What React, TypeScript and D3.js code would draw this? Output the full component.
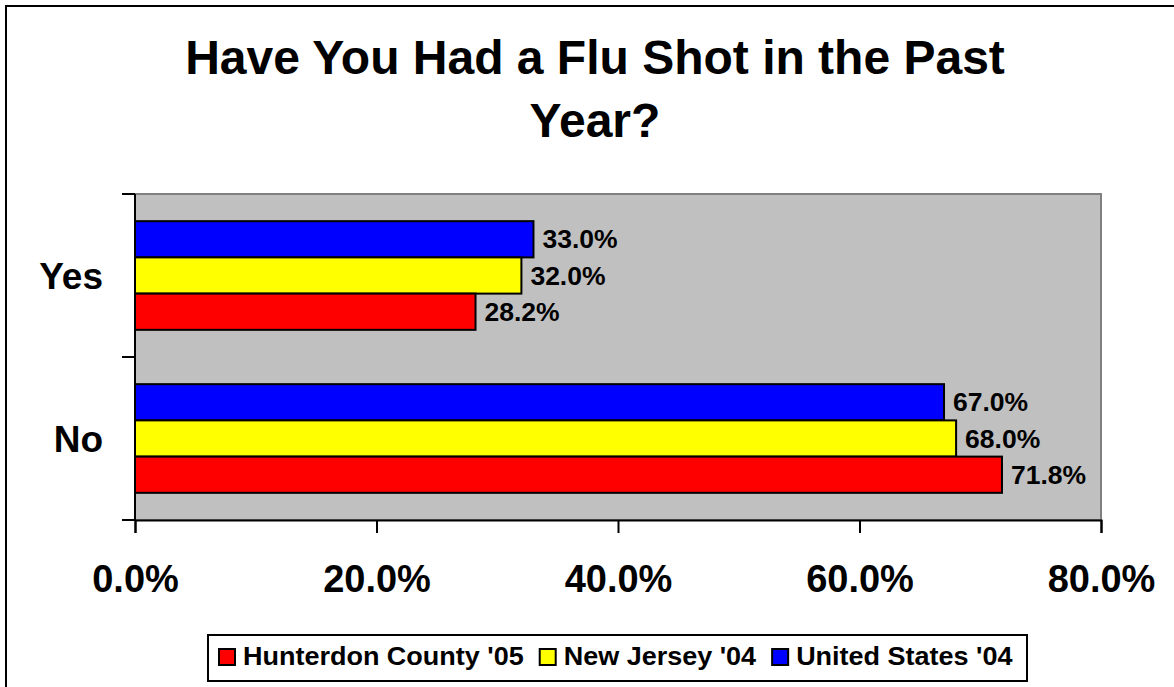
import React, { useEffect, useRef } from "react";
import * as d3 from "d3";

const titleLines = ["Have You Had a Flu Shot in the Past", "Year?"];
const categories = ["Yes", "No"];
const seriesNames = ["Hunterdon County '05", "New Jersey '04", "United States '04"];
const seriesColors = ["#FF0000", "#FFFF00", "#0000FF"];
const hunterdon = [28.2, 71.8];
const newJersey = [32.0, 68.0];
const unitedStates = [33.0, 67.0];
const xTicks = [0, 20, 40, 60, 80];

const W = 1174;
const H = 687;
const FONT = "'Liberation Sans', Arial, Helvetica, sans-serif";

export default function App() {
  const ref = useRef<SVGSVGElement | null>(null);

  useEffect(() => {
    const svg = d3.select(ref.current);
    svg.selectAll("*").remove();

    const seriesValues = [hunterdon, newJersey, unitedStates];
    const plot = { left: 135, right: 1101, top: 194, bottom: 520 };

    // outer frame
    svg.append("rect").attr("x", 6).attr("y", 6).attr("width", 1180).attr("height", 700)
      .attr("fill", "#fff").attr("stroke", "#000").attr("stroke-width", 2);

    // title
    svg.append("text").attr("x", 595).attr("y", 74).attr("text-anchor", "middle")
      .attr("font-family", FONT).attr("font-weight", "bold").attr("font-size", 48)
      .text(titleLines[0]);
    svg.append("text").attr("x", 595).attr("y", 137).attr("text-anchor", "middle")
      .attr("font-family", FONT).attr("font-weight", "bold").attr("font-size", 48)
      .text(titleLines[1]);

    const x = d3.scaleLinear().domain([0, 80]).range([plot.left, plot.right]);
    const y = d3.scaleBand<string>().domain(categories).range([plot.top, plot.bottom]).padding(0);
    // bar order top -> bottom: United States, New Jersey, Hunterdon
    const order = [2, 1, 0];
    const inner = d3.scaleBand<number>().domain(order).range([0, y.step()])
      .paddingInner(0).paddingOuter(0.75);

    // plot area
    svg.append("rect").attr("x", plot.left).attr("y", plot.top)
      .attr("width", plot.right - plot.left).attr("height", plot.bottom - plot.top)
      .attr("fill", "#C0C0C0").attr("stroke", "#808080").attr("stroke-width", 2);

    // bars
    categories.forEach((cat, ci) => {
      order.forEach((si) => {
        const v = seriesValues[si][ci];
        const y0 = (y(cat) as number) + (inner(si) as number);
        const bh = inner.bandwidth();
        svg.append("rect").attr("x", x(0)).attr("y", y0)
          .attr("width", x(v) - x(0)).attr("height", bh)
          .attr("fill", seriesColors[si]).attr("stroke", "#000").attr("stroke-width", 2);
        svg.append("text").attr("x", x(v) + 9).attr("y", y0 + bh / 2 + 9)
          .attr("font-family", FONT).attr("font-weight", "bold").attr("font-size", 26.5)
          .text(d3.format(".1f")(v) + "%");
      });
    });

    // x axis
    const xa = svg.append("g").attr("transform", `translate(0,${plot.bottom})`)
      .call(d3.axisBottom(x).tickValues(xTicks).tickSize(13).tickPadding(32)
        .tickFormat((d: any) => d3.format(".1f")(d) + "%"));
    xa.select(".domain").attr("stroke", "#000").attr("stroke-width", 2);
    xa.selectAll(".tick line").attr("stroke", "#000").attr("stroke-width", 2);
    xa.selectAll(".tick text").attr("font-family", FONT).attr("font-weight", "bold")
      .attr("font-size", 38).attr("fill", "#000");

    // y axis
    svg.append("line").attr("x1", plot.left).attr("x2", plot.left)
      .attr("y1", plot.top).attr("y2", plot.bottom).attr("stroke", "#000").attr("stroke-width", 2);
    const boundaries = [...categories.map((c) => y(c) as number), plot.bottom];
    boundaries.forEach((b) => {
      svg.append("line").attr("x1", plot.left - 13).attr("x2", plot.left)
        .attr("y1", b).attr("y2", b).attr("stroke", "#000").attr("stroke-width", 2);
    });
    categories.forEach((cat) => {
      svg.append("text").attr("x", 103).attr("y", (y(cat) as number) + y.bandwidth() / 2 + 13)
        .attr("text-anchor", "end").attr("font-family", FONT).attr("font-weight", "bold")
        .attr("font-size", 37).text(cat);
    });

    // legend
    const lg = { left: 208, top: 635, right: 1027, bottom: 681 };
    svg.append("rect").attr("x", lg.left).attr("y", lg.top)
      .attr("width", lg.right - lg.left).attr("height", lg.bottom - lg.top)
      .attr("fill", "#fff").attr("stroke", "#000").attr("stroke-width", 2);
    let cx = 219;
    const stretch = 1.08;
    seriesNames.forEach((name, i) => {
      svg.append("rect").attr("x", cx).attr("y", 649).attr("width", 16).attr("height", 16)
        .attr("fill", seriesColors[i]).attr("stroke", "#000").attr("stroke-width", 2);
      const tx = cx + 24;
      const t = svg.append("text").attr("x", 0).attr("y", 0)
        .attr("transform", `translate(${tx},665) scale(${stretch},1)`)
        .attr("font-family", FONT).attr("font-weight", "bold").attr("font-size", 25)
        .text(name);
      const w = (t.node() as SVGTextElement).getComputedTextLength() * stretch;
      cx = tx + w + 16;
    });
  }, []);

  return (
    <svg ref={ref} width={W} height={H}
      style={{ position: "absolute", left: 0, top: 0, background: "#fff" }} />
  );
}
